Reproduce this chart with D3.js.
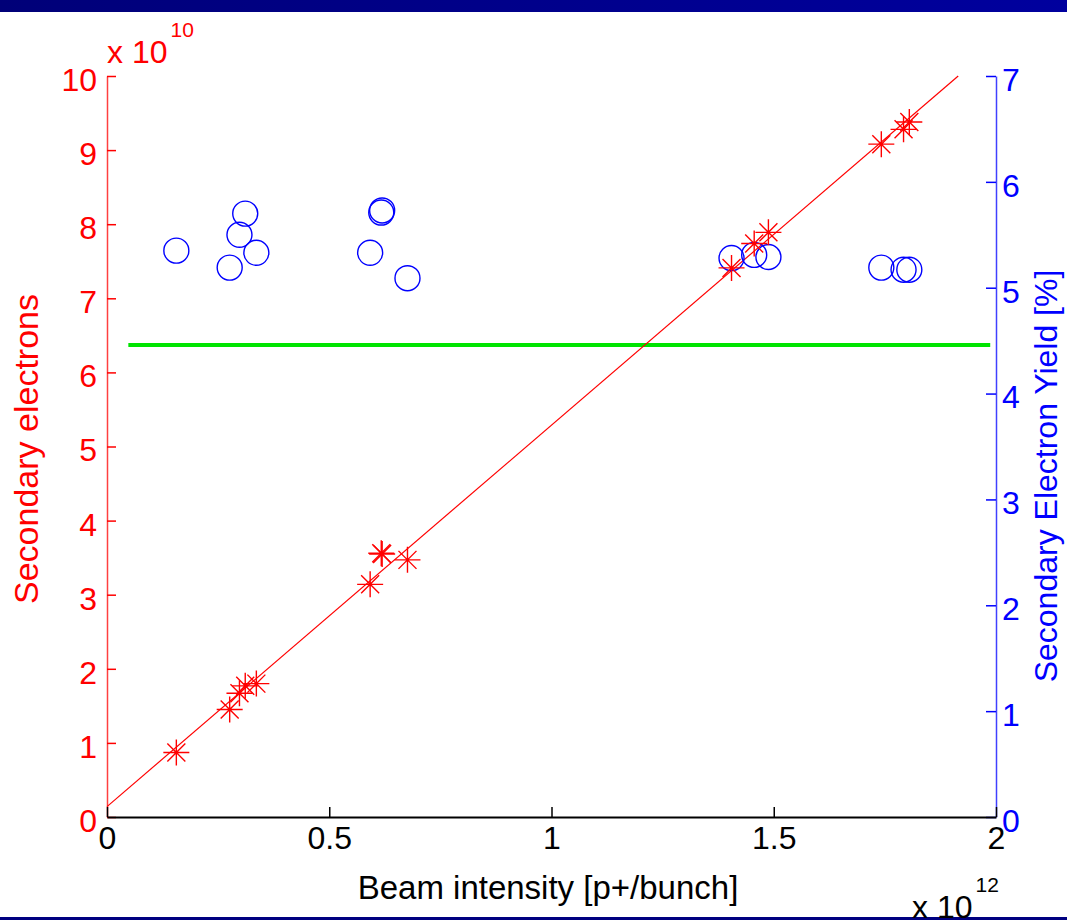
<!DOCTYPE html>
<html>
<head>
<meta charset="utf-8">
<script src="https://cdn.jsdelivr.net/npm/d3@7"></script>
<style>
  body { margin: 0; background: #fff; }
  svg { display: block; font-family: "Liberation Sans", Arial, sans-serif; }
</style>
</head>
<body>
<svg id="chart"></svg>
<script>
// beam intensity in units of 1e12 p+/bunch
const beam      = [0.156, 0.276, 0.298, 0.311, 0.336, 0.592, 0.617, 0.619, 0.676, 1.405, 1.456, 1.488, 1.742, 1.792, 1.805];
// secondary electrons in units of 1e10
const electrons = [0.87, 1.45, 1.67, 1.77, 1.80, 3.14, 3.56, 3.55, 3.47, 7.41, 7.74, 7.89, 9.08, 9.28, 9.38];
// secondary electron yield in %
const yieldPct  = [5.35, 5.19, 5.50, 5.70, 5.33, 5.33, 5.71, 5.73, 5.09, 5.28, 5.31, 5.29, 5.19, 5.17, 5.17];

// linear fit endpoints (left axis)
const fitX = [0, 1.915];
const fitY = [0.14, 10];
// mean yield (right axis)
const meanX = [0.048, 1.987];
const meanY = [4.46, 4.46];

const xTicks = [0, 0.5, 1, 1.5, 2];
const yLeftTicks = [0, 1, 2, 3, 4, 5, 6, 7, 8, 9, 10];
const yRightTicks = [0, 1, 2, 3, 4, 5, 6, 7];

const svgWidth = 1067;
const svgHeight = 920;
const plotLeft = 107, plotRight = 996, plotTop = 76, plotBottom = 817;

const svg = d3.select("#chart")
  .attr("width", svgWidth)
  .attr("height", svgHeight);

// header / footer bars
const grad = svg.append("defs").append("linearGradient").attr("id", "bar");
grad.append("stop").attr("offset", "0%").attr("stop-color", "#000078");
grad.append("stop").attr("offset", "100%").attr("stop-color", "#00009e");
svg.append("rect").attr("x", 0).attr("y", 0).attr("width", svgWidth).attr("height", 12).attr("fill", "url(#bar)");
svg.append("rect").attr("x", 0).attr("y", 917).attr("width", svgWidth).attr("height", 3).attr("fill", "#000080");

const x = d3.scaleLinear().domain([0, 2]).range([plotLeft, plotRight]);
const yL = d3.scaleLinear().domain([0, 10]).range([plotBottom, plotTop]);
const yR = d3.scaleLinear().domain([0, 7]).range([plotBottom, plotTop]);

const fontSize = 32;

// axes
const xAxis = d3.axisBottom(x).tickValues(xTicks).tickFormat(d3.format("")).tickSizeInner(-10).tickSizeOuter(0).tickPadding(9);
const yAxisL = d3.axisLeft(yL).tickValues(yLeftTicks).tickFormat(d3.format("d")).tickSizeInner(-9).tickSizeOuter(0).tickPadding(10);
const yAxisR = d3.axisRight(yR).tickValues(yRightTicks).tickFormat(d3.format("d")).tickSizeInner(-10).tickSizeOuter(0).tickPadding(6);

const gL = svg.append("g").attr("transform", `translate(${plotLeft},0)`).call(yAxisL);
gL.select(".domain").attr("stroke", "#ff4040").attr("stroke-width", 1.5);
gL.selectAll(".tick line").attr("stroke", "#ff0000").attr("stroke-width", 1.5);
gL.selectAll(".tick text").attr("fill", "#ff0000").attr("font-size", fontSize).attr("dy", "0.45em");

const gR = svg.append("g").attr("transform", `translate(${plotRight},0)`).call(yAxisR);
gR.select(".domain").attr("stroke", "#4040ff").attr("stroke-width", 1.5);
gR.selectAll(".tick line").attr("stroke", "#0000ff").attr("stroke-width", 1.5);
gR.selectAll(".tick text").attr("fill", "#0000ff").attr("font-size", fontSize).attr("dy", "0.45em");

const gX = svg.append("g").attr("transform", `translate(0,${plotBottom})`).call(xAxis);
gX.select(".domain").attr("stroke", "#000").attr("stroke-width", 2);
gX.selectAll(".tick line").attr("stroke", "#000").attr("stroke-width", 1.5);
gX.selectAll(".tick text").attr("fill", "#000").attr("font-size", fontSize);
svg.selectAll(".domain").attr("fill", "none");

// mean yield line
svg.append("line")
  .attr("x1", x(meanX[0])).attr("x2", x(meanX[1]))
  .attr("y1", yR(meanY[0])).attr("y2", yR(meanY[1]))
  .attr("stroke", "#00e400").attr("stroke-width", 4);

// fit line
svg.append("line")
  .attr("x1", x(fitX[0])).attr("x2", x(fitX[1]))
  .attr("y1", yL(fitY[0])).attr("y2", yL(fitY[1]))
  .attr("stroke", "#ff0000").attr("stroke-width", 1.2);

const points = beam.map((b, i) => ({ b, e: electrons[i], y: yieldPct[i] }));

// yield circles
svg.selectAll("circle.yield")
  .data(points)
  .enter()
  .append("circle")
  .attr("class", "yield")
  .attr("cx", d => x(d.b))
  .attr("cy", d => yR(d.y))
  .attr("r", 12.5)
  .attr("fill", "none")
  .attr("stroke", "#0000ff")
  .attr("stroke-width", 1.4);

// electron stars (MATLAB '*' marker)
const starPath = "M0,-13V13M-13,0H13M-9,-9L9,9M-9,9L9,-9";
svg.selectAll("path.star")
  .data(points)
  .enter()
  .append("path")
  .attr("class", "star")
  .attr("transform", d => `translate(${x(d.b)},${yL(d.e)})`)
  .attr("d", starPath)
  .attr("stroke", "#ff0000")
  .attr("stroke-width", 1.4)
  .attr("fill", "none");

// exponent labels
const expL = svg.append("text").attr("x", 107).attr("y", 63).attr("fill", "#ff0000").attr("font-size", fontSize);
expL.append("tspan").text("x 10");
expL.append("tspan").attr("dx", 3).attr("dy", -26).attr("font-size", 21).text("10");

const expX = svg.append("text").attr("x", 912).attr("y", 918).attr("fill", "#000").attr("font-size", fontSize);
expX.append("tspan").text("x 10");
expX.append("tspan").attr("dx", 3).attr("dy", -26).attr("font-size", 21).text("12");

// axis titles
svg.append("text")
  .attr("transform", "translate(38,449) rotate(-90)")
  .attr("text-anchor", "middle")
  .attr("fill", "#ff0000")
  .attr("font-size", 34)
  .text("Secondary electrons");

svg.append("text")
  .attr("transform", "translate(1057,476) rotate(-90)")
  .attr("text-anchor", "middle")
  .attr("fill", "#0000ff")
  .attr("font-size", 32)
  .text("Secondary Electron Yield [%]");

svg.append("text")
  .attr("x", 548)
  .attr("y", 899)
  .attr("text-anchor", "middle")
  .attr("fill", "#000")
  .attr("font-size", 33)
  .text("Beam intensity [p+/bunch]");
</script>
</body>
</html>
